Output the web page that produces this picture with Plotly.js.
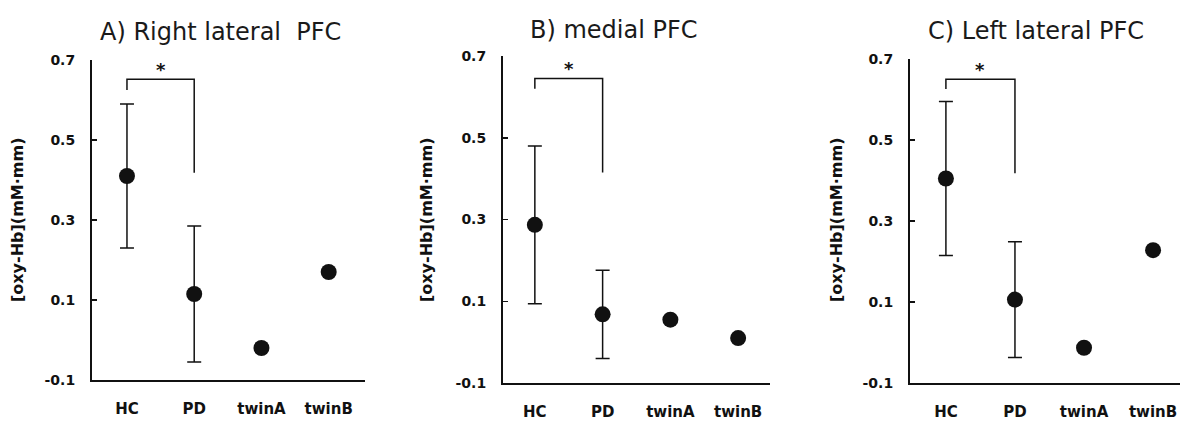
<!DOCTYPE html>
<html>
<head>
<meta charset="utf-8">
<script src="https://cdn.plot.ly/plotly-3.0.1.min.js"></script>
<style>html,body{margin:0;padding:0;background:#fff;}</style>
</head>
<body>
<div id="chart" style="width:1180px;height:421px;"></div>
<script>
// ---- data ----
const categories = ["HC", "PD", "twinA", "twinB"];
const panelTitles = ["A) Right lateral  PFC", "B) medial PFC", "C) Left lateral PFC"];
const yTitle = "[oxy-Hb](mM·mm)";
const yTickVals = [0.7, 0.5, 0.3, 0.1, -0.1];
const yTickText = ["0.7", "0.5", "0.3", "0.1", "-0.1"];

const meanA = [0.41, 0.115, -0.02, 0.17];
const errA  = [0.18, 0.17, null, null];
const meanB = [0.287, 0.068, 0.055, 0.01];
const errB  = [0.193, 0.108, null, null];
const meanC = [0.405, 0.106, -0.013, 0.228];
const errC  = [0.19, 0.143, null, null];

// significance bracket between HC and PD: [left leg bottom, top, right leg bottom]
const bracketA = [0.625, 0.652, 0.418];
const bracketB = [0.62, 0.645, 0.415];
const bracketC = [0.626, 0.65, 0.418];
const sigLabel = "*";

// ---- build ----
const means = [meanA, meanB, meanC];
const errs = [errA, errB, errC];
const brackets = [bracketA, bracketB, bracketC];
const xDomains = [[92/1180, 365/1180], [503/1180, 770/1180], [910/1180, 1]];
const yDomains = [[1-380/421, 1-60/421], [1-383/421, 1-56/421], [1-383/421, 1-59/421]];
const xRanges = [[-0.52, 3.54], [-0.47, 3.47], [-0.52, 3.39]];
const titleX = [220, 614, 1036];
const titleY = [32, 30, 31];
const yTitleX = [18, 427, 837];

const ink = "#111";
const fam = "DejaVu Sans, Verdana, sans-serif";
const data = [];
const annotations = [];
const layout = {
  width: 1180, height: 421,
  margin: {l: 0, r: 0, t: 0, b: 0},
  paper_bgcolor: "#fff", plot_bgcolor: "#fff",
  showlegend: false,
  font: {family: fam, color: ink},
  annotations: annotations
};

for (let i = 0; i < 3; i++) {
  const sfx = i === 0 ? "" : String(i + 1);
  const xa = "x" + sfx, ya = "y" + sfx;
  data.push({
    type: "scatter", mode: "markers",
    x: categories, y: means[i], xaxis: xa, yaxis: ya,
    marker: {color: ink, size: 16},
    error_y: {type: "data", array: errs[i], visible: true, color: ink, thickness: 1.5, width: 7},
    hoverinfo: "skip"
  });
  const b = brackets[i];
  data.push({
    type: "scatter", mode: "lines",
    x: [categories[0], categories[0], categories[1], categories[1]],
    y: [b[0], b[1], b[1], b[2]],
    xaxis: xa, yaxis: ya,
    line: {color: ink, width: 1.5},
    hoverinfo: "skip"
  });
  annotations.push({
    xref: xa, yref: ya, x: 0.5, y: b[1], yshift: 10,
    text: "<b>" + sigLabel + "</b>", showarrow: false,
    font: {family: fam, size: 18, color: ink}
  });
  annotations.push({
    xref: "paper", yref: "paper", x: titleX[i] / 1180, y: 1 - titleY[i] / 421,
    xanchor: "center", yanchor: "middle",
    text: panelTitles[i], showarrow: false,
    font: {family: fam, size: 24, color: "#1a1a1a"}
  });
  annotations.push({
    xref: "paper", yref: "paper", x: yTitleX[i] / 1180, y: 1 - 220 / 421,
    xanchor: "center", yanchor: "middle", textangle: -90,
    text: "<b>" + yTitle + "</b>", showarrow: false,
    font: {family: fam, size: 16, color: ink}
  });
  layout["xaxis" + sfx] = {
    domain: xDomains[i], anchor: ya, type: "category",
    range: xRanges[i], showgrid: false, zeroline: false,
    showline: true, linecolor: ink, linewidth: 2,
    ticks: "", ticklabelstandoff: 14,
    tickvals: categories, ticktext: categories.map(c => "<b>" + c + "</b>"),
    tickfont: {family: fam, size: 15, color: ink}
  };
  layout["yaxis" + sfx] = {
    domain: yDomains[i], anchor: xa,
    range: [-0.1, 0.7], showgrid: false, zeroline: false,
    showline: true, linecolor: ink, linewidth: 2,
    ticks: "inside", ticklen: 5, tickwidth: 1.5, tickcolor: ink,
    tickvals: yTickVals, ticktext: yTickText.map(t => "<b>" + t + "</b>"), ticklabelstandoff: 12,
    tickfont: {family: fam, size: 14, color: ink}
  };
}

Plotly.newPlot("chart", data, layout, {displayModeBar: false, staticPlot: true});
</script>
</body>
</html>
